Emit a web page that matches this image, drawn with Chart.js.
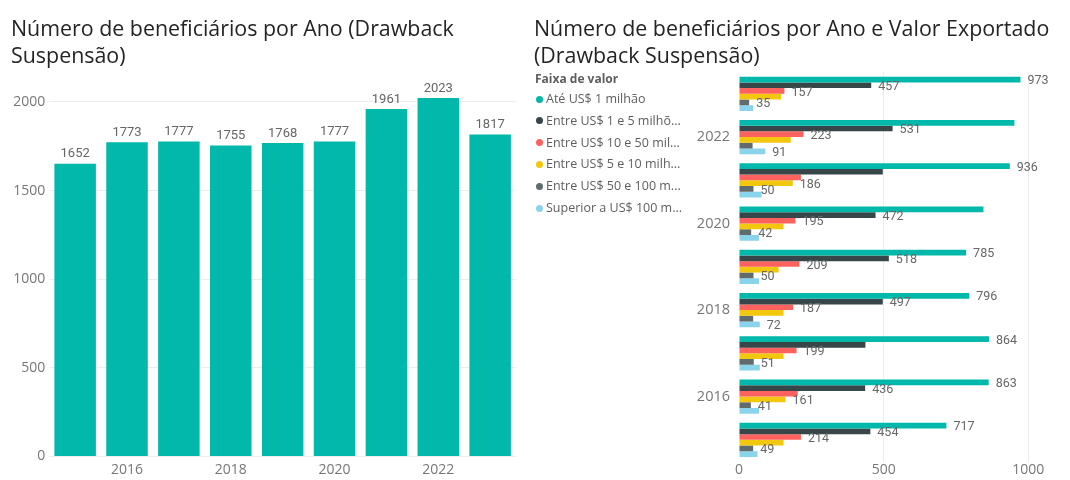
<!DOCTYPE html>
<html><head><meta charset="utf-8">
<script src="https://cdn.jsdelivr.net/npm/chart.js@4.4.1/dist/chart.umd.min.js"></script>
<style>
html,body{margin:0;padding:0;background:#fff}
body{width:1070px;height:480px;overflow:hidden;position:relative;font-family:'Open Sans',sans-serif}
canvas{position:absolute;top:0}
#c1{left:0}
#c2{left:530px}
.title{position:absolute;color:#252423;white-space:nowrap;font-family:'Open Sans',sans-serif}
.lg{position:absolute;white-space:nowrap;color:#605E5C;font-family:'Open Sans',sans-serif}
.dot{position:absolute;width:7px;height:7px;border-radius:50%}
</style></head>
<body>
<canvas id="c1" width="530" height="480"></canvas>
<canvas id="c2" width="540" height="480"></canvas>
<div id="overlay"></div>
<script>
// ---------------- data ----------------
const years = ['2015','2016','2017','2018','2019','2020','2021','2022','2023'];
const totalBeneficiarios = [1652, 1773, 1777, 1755, 1768, 1777, 1961, 2023, 1817];
const yTicks1 = [0, 500, 1000, 1500, 2000];

const faixaLabels = ['Até US$ 1 milhão','Entre US$ 1 e 5 milhões','Entre US$ 10 e 50 milhões','Entre US$ 5 e 10 milhões','Entre US$ 50 e 100 milhões','Superior a US$ 100 milhões'];
const ateUm      = [717, 863, 864, 796, 785, 845, 936, 952, 973];
const umACinco   = [454, 436, 437, 497, 518, 472, 497, 531, 457];
const dezACinq   = [214, 203, 199, 187, 209, 195, 214, 223, 157];
const cincoADez  = [154, 161, 154, 154, 137, 154, 186, 179, 146];
const cinqACem   = [49, 41, 51, 49, 50, 42, 50, 47, 35];
const acimaCem   = [64, 69, 72, 72, 69, 69, 78, 91, 49];
const xTicks2 = [0, 500, 1000];
// which data labels Power BI shows (others hidden due to overlap)
const shownAteUm     = [1,1,1,1,1,0,1,0,1];
const shownUmACinco  = [1,1,0,1,1,1,0,1,1];
const shownDezACinq  = [1,0,1,1,1,1,0,1,1];
const shownCincoADez = [0,1,0,0,0,0,1,0,0];
const shownCinqACem  = [1,1,1,0,1,1,1,0,1];
const shownAcimaCem  = [0,0,0,1,0,0,0,1,0];

const title1 = ['Número de beneficiários por Ano (Drawback', 'Suspensão)'];
const title2 = ['Número de beneficiários por Ano e Valor Exportado', '(Drawback Suspensão)'];
const legendTitle = 'Faixa de valor';

// ---------------- styling ----------------
const colors = ['#01B8AA','#374649','#FD625E','#F2C80F','#5F6B6D','#8AD4EB'];
const tickFont = {family:"'Open Sans', sans-serif", size:14};
const tickColor = '#777777';
const gridColor = '#EDEDED';

const mctx = document.createElement('canvas').getContext('2d');
function w(text, font){ mctx.font = font; return mctx.measureText(text).width; }
let ts = 20;
for (let s = 14; s <= 26; s += 0.1) { if (w(title1[0], s + "px 'Open Sans'") <= 443) ts = s; }

const overlay = document.getElementById('overlay');
function addTitle(lines, left){
  lines.forEach((ln, i) => {
    const d = document.createElement('div');
    d.className = 'title';
    d.textContent = ln;
    d.style.fontSize = ts + 'px';
    d.style.lineHeight = '28px';
    d.style.left = left + 'px';
    d.style.top = (13.5 + i * 27) + 'px';
    overlay.appendChild(d);
  });
}
addTitle(title1, 11);
addTitle(title2, 534);

// legend
const lgFont = 12.5;
{
  const t = document.createElement('div');
  t.className = 'lg';
  t.textContent = legendTitle;
  t.style.fontWeight = 'bold';
  t.style.fontSize = '12px';
  t.style.left = '535px';
  t.style.top = '70px';
  t.style.lineHeight = '18px';
  overlay.appendChild(t);
  faixaLabels.forEach((lab, i) => {
    const cy = 99 + i * 21.8;
    const dot = document.createElement('div');
    dot.className = 'dot';
    dot.style.background = colors[i];
    dot.style.left = '536px';
    dot.style.top = (cy - 3.5) + 'px';
    overlay.appendChild(dot);
    let txt = lab;
    const f = lgFont + "px 'Open Sans'";
    const maxW = 137.8;
    if (w(txt, f) > maxW) {
      let s = txt;
      while (s.length && w(s + '...', f) > maxW) s = s.slice(0, -1);
      txt = s + '...';
    }
    const d = document.createElement('div');
    d.className = 'lg';
    d.textContent = txt;
    d.title = lab;
    d.style.fontSize = lgFont + 'px';
    d.style.left = '546px';
    d.style.top = (cy - 10) + 'px';
    d.style.lineHeight = '20px';
    overlay.appendChild(d);
  });
}

// ---------------- chart 1 ----------------
const labels1Plugin = {
  id: 'labels1',
  afterDatasetsDraw(chart){
    const ctx = chart.ctx;
    const ds = chart.data.datasets[0];
    const meta = chart.getDatasetMeta(0);
    ctx.save();
    ctx.font = "13px Roboto";
    ctx.fillStyle = '#666666';
    ctx.textAlign = 'center';
    ctx.textBaseline = 'middle';
    meta.data.forEach((bar, i) => ctx.fillText(String(ds.data[i]), bar.x, bar.y - 9.5));
    ctx.restore();
  }
};

new Chart(document.getElementById('c1'), {
  type: 'bar',
  data: { labels: years, datasets: [{ data: totalBeneficiarios, backgroundColor: colors[0], borderWidth: 0, barPercentage: 0.8, categoryPercentage: 1 }] },
  options: {
    responsive: false, animation: false, devicePixelRatio: 1,
    layout: { padding: { top: 75.4, right: 13.9, bottom: 0, left: 0 } },
    plugins: { legend: { display: false }, tooltip: { enabled: false } },
    scales: {
      x: {
        grid: { display: false, drawTicks: false }, border: { display: false },
        ticks: { font: tickFont, color: tickColor, padding: 5, autoSkip: false, maxRotation: 0,
          callback(v){ const y = this.getLabelForValue(v); return (+y % 2 === 0) ? y : ''; } },
        afterFit(s){ s.height = 23.5; }
      },
      y: {
        min: 0, max: 2150,
        grid: { color: gridColor, drawTicks: false }, border: { display: false },
        ticks: { font: tickFont, color: tickColor, padding: 4, autoSkip: false, callback: v => String(v) },
        afterBuildTicks(s){ s.ticks = yTicks1.map(v => ({ value: v })); },
        afterFit(s){ s.width = 49.2; }
      }
    }
  },
  plugins: [labels1Plugin]
});

// ---------------- chart 2 ----------------
const seriesData = [ateUm, umACinco, dezACinq, cincoADez, cinqACem, acimaCem];
const seriesShown = [shownAteUm, shownUmACinco, shownDezACinq, shownCincoADez, shownCinqACem, shownAcimaCem];

const labels2Plugin = {
  id: 'labels2',
  afterDatasetsDraw(chart){
    const ctx = chart.ctx;
    ctx.save();
    ctx.font = "12.5px Roboto";
    ctx.fillStyle = '#666666';
    ctx.textAlign = 'left';
    ctx.textBaseline = 'middle';
    chart.data.datasets.forEach((ds, di) => {
      const meta = chart.getDatasetMeta(di);
      meta.data.forEach((bar, i) => {
        if (seriesShown[di][i]) ctx.fillText(String(ds.data[i]), bar.x + 7, bar.y + 1.5);
      });
    });
    ctx.restore();
  }
};

new Chart(document.getElementById('c2'), {
  type: 'bar',
  data: {
    labels: years,
    datasets: seriesData.map((d, i) => ({ label: faixaLabels[i], data: d, backgroundColor: colors[i], borderWidth: 0, barPercentage: 1, categoryPercentage: 0.793 }))
  },
  options: {
    indexAxis: 'y',
    responsive: false, animation: false, devicePixelRatio: 1,
    layout: { padding: { top: 72.2, right: 41.7, bottom: 0, left: 0 } },
    plugins: { legend: { display: false }, tooltip: { enabled: false } },
    scales: {
      x: {
        min: 0, max: 1000,
        grid: { drawTicks: false, color: c => (c.tick && c.tick.value === 0) ? 'rgba(0,0,0,0)' : gridColor },
        border: { display: false },
        ticks: { font: tickFont, color: tickColor, padding: 0, callback: v => String(v) },
        afterBuildTicks(s){ s.ticks = xTicks2.map(v => ({ value: v })); },
        afterFit(s){ s.height = 18.5; }
      },
      y: {
        reverse: true,
        grid: { display: false, drawTicks: false }, border: { display: false },
        ticks: { font: {family:"'Open Sans', sans-serif", size:14.5}, color: tickColor, padding: 9, autoSkip: false,
          callback(v){ const y = this.getLabelForValue(v); return (+y % 2 === 0) ? y : ''; } },
        afterFit(s){ s.width = 209; }
      }
    }
  },
  plugins: [labels2Plugin]
});
</script>
</body></html>
